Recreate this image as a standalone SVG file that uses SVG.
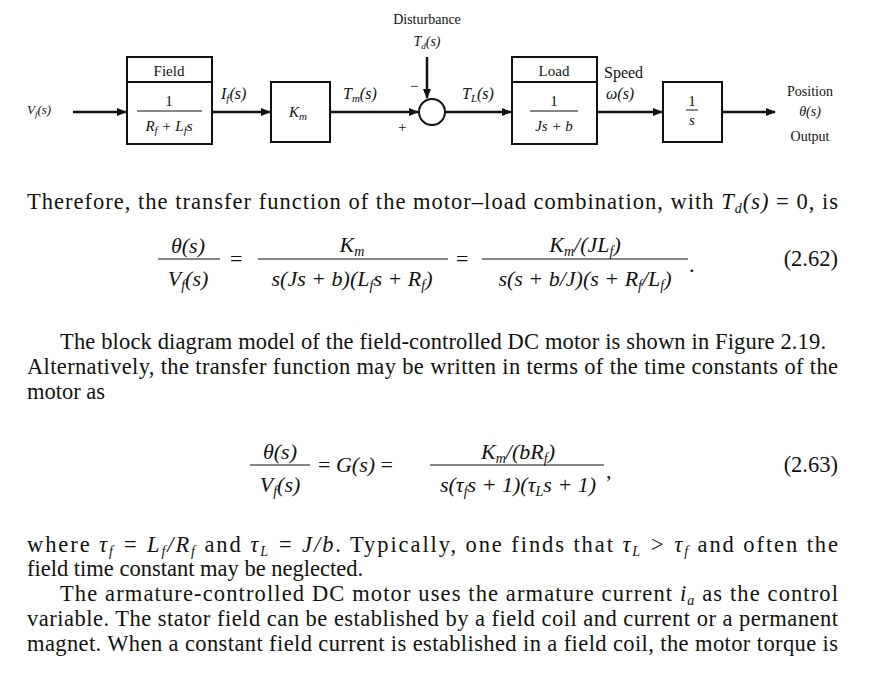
<svg xmlns="http://www.w3.org/2000/svg" width="884" height="680" viewBox="0 0 884 680">
<style>
text{font-family:"Liberation Serif",serif;fill:#111}
.b{fill:none;stroke:#111;stroke-width:2}
.l{stroke:#111;stroke-width:2.5;fill:none}
.s{font-size:15px}
.t{font-size:22.5px}
.e{font-size:22px;font-style:italic}
</style>
<defs><marker id="a" markerWidth="10" markerHeight="8" refX="9" refY="4" orient="auto" markerUnits="userSpaceOnUse"><path d="M0,0L10,4L0,8z" fill="#111"/></marker></defs>
<rect width="884" height="680" fill="#fff"/>
<g id="field"><rect class="b" x="127" y="57" width="85" height="87"/><line class="b" x1="127" y1="82" x2="212" y2="82"/>
<text class="s" x="169" y="76" text-anchor="middle">Field</text><text class="s" x="169" y="106" text-anchor="middle">1</text><line stroke="#111" x1="137" y1="111" x2="202" y2="111"/><text class="s" x="169" y="131" text-anchor="middle" font-style="italic">R<tspan font-size="11" dy="3">f</tspan><tspan dy="-3"> + L</tspan><tspan font-size="11" dy="3">f</tspan><tspan dy="-3">s</tspan></text></g>
<g id="km"><rect class="b" x="271" y="82" width="59" height="60"/><text class="s" x="298" y="117" text-anchor="middle" font-style="italic" font-size="16">K<tspan font-size="11" dy="3">m</tspan></text></g>
<g id="sum"><circle class="b" cx="432" cy="112" r="13"/><text class="s" x="410" y="91">−</text><text class="s" x="398" y="132">+</text></g>
<g id="load"><rect class="b" x="512" y="57" width="85" height="87"/><line class="b" x1="512" y1="82" x2="597" y2="82"/>
<text class="s" x="554" y="76" text-anchor="middle">Load</text><text class="s" x="554" y="106" text-anchor="middle">1</text><line stroke="#111" x1="530" y1="111" x2="578" y2="111"/><text class="s" x="554" y="131" text-anchor="middle" font-style="italic">Js + b</text></g>
<g id="integ"><rect class="b" x="663" y="82" width="59" height="60"/><text class="s" x="692" y="106" text-anchor="middle">1</text><line stroke="#111" x1="686" y1="110" x2="698" y2="110"/><text class="s" x="692" y="125" text-anchor="middle" font-style="italic">s</text></g>
<g id="connectors">
<line class="l" x1="73" y1="112" x2="126" y2="112" marker-end="url(#a)"/>
<line class="l" x1="212" y1="112" x2="270" y2="112" marker-end="url(#a)"/>
<line class="l" x1="330" y1="112" x2="418" y2="112" marker-end="url(#a)"/>
<line class="l" x1="427" y1="57" x2="427" y2="98" marker-end="url(#a)"/>
<line class="l" x1="445" y1="112" x2="511" y2="112" marker-end="url(#a)"/>
<line class="l" x1="597" y1="112" x2="662" y2="112" marker-end="url(#a)"/>
<line class="l" x1="722" y1="112" x2="775" y2="112" marker-end="url(#a)"/>
</g>
<g class="s">
<text x="27" y="114" font-style="italic" font-size="13">V<tspan font-size="9" dy="3">f</tspan><tspan dy="-3">(s)</tspan></text>
<text x="221" y="99" font-style="italic" font-size="16">I<tspan font-size="11" dy="3">f</tspan><tspan dy="-3">(s)</tspan></text>
<text x="343" y="99" font-style="italic" font-size="16">T<tspan font-size="11" dy="3">m</tspan><tspan dy="-3">(s)</tspan></text>
<text x="427" y="24" text-anchor="middle" font-size="14">Disturbance</text>
<text x="427" y="46" text-anchor="middle" font-style="italic" font-size="14">T<tspan font-size="9" dy="3">d</tspan><tspan dy="-3">(s)</tspan></text>
<text x="462" y="99" font-style="italic" font-size="16">T<tspan font-size="11" dy="3">L</tspan><tspan dy="-3">(s)</tspan></text>
<text x="604" y="78" font-size="16">Speed</text><text x="606" y="99" font-style="italic" font-size="16">ω(s)</text>
<text x="810" y="96" text-anchor="middle" font-size="14">Position</text>
<text x="810" y="116" text-anchor="middle" font-style="italic" font-size="14">θ(s)</text>
<text x="810" y="141" text-anchor="middle" font-size="14">Output</text>
</g>
<text class="t" x="27" y="209" textLength="811" lengthAdjust="spacing">Therefore, the transfer function of the motor–load combination, with <tspan font-style="italic">T<tspan font-size="14" dy="4">d</tspan><tspan dy="-4">(s)</tspan></tspan> = 0, is</text>
<g class="e">
<text x="188" y="253" text-anchor="middle">θ(s)</text><line stroke="#111" x1="158" y1="259" x2="220" y2="259"/><text x="188" y="286" text-anchor="middle">V<tspan font-size="14" dy="4">f</tspan><tspan dy="-4">(s)</tspan></text>
<text x="230" y="266" font-style="normal">=</text>
<text x="352" y="252" text-anchor="middle">K<tspan font-size="14" dy="4">m</tspan></text><line stroke="#111" x1="258" y1="259" x2="448" y2="259"/><text x="352" y="286" text-anchor="middle">s(Js + b)(L<tspan font-size="14" dy="4">f</tspan><tspan dy="-4">s + R</tspan><tspan font-size="14" dy="4">f</tspan><tspan dy="-4">)</tspan></text>
<text x="456" y="266" font-style="normal">=</text>
<text x="585" y="252" text-anchor="middle">K<tspan font-size="14" dy="4">m</tspan><tspan dy="-4">/(JL</tspan><tspan font-size="14" dy="4">f</tspan><tspan dy="-4">)</tspan></text><line stroke="#111" x1="482" y1="259" x2="688" y2="259"/><text x="585" y="286" text-anchor="middle">s(s + b/J)(s + R<tspan font-size="14" dy="4">f</tspan><tspan dy="-4">/L</tspan><tspan font-size="14" dy="4">f</tspan><tspan dy="-4">)</tspan></text>
<text x="689" y="272" font-style="normal">.</text>
</g>
<text class="t" x="838" y="266" text-anchor="end">(2.62)</text>
<text class="t" x="60" y="349" textLength="766" lengthAdjust="spacing">The block diagram model of the field-controlled DC motor is shown in Figure 2.19.</text>
<text class="t" x="27" y="374" textLength="811" lengthAdjust="spacing">Alternatively, the transfer function may be written in terms of the time constants of the</text>
<text class="t" x="27" y="399">motor as</text>
<g class="e">
<text x="280" y="459" text-anchor="middle">θ(s)</text><line stroke="#111" x1="250" y1="465" x2="310" y2="465"/><text x="280" y="492" text-anchor="middle">V<tspan font-size="14" dy="4">f</tspan><tspan dy="-4">(s)</tspan></text>
<text x="318" y="472"><tspan font-style="normal">=</tspan> G(s) <tspan font-style="normal">=</tspan></text>
<text x="518" y="459" text-anchor="middle">K<tspan font-size="14" dy="4">m</tspan><tspan dy="-4">/(bR</tspan><tspan font-size="14" dy="4">f</tspan><tspan dy="-4">)</tspan></text><line stroke="#111" x1="430" y1="465" x2="604" y2="465"/><text x="518" y="492" text-anchor="middle">s(τ<tspan font-size="14" dy="4">f</tspan><tspan dy="-4">s + 1)(τ</tspan><tspan font-size="14" dy="4">L</tspan><tspan dy="-4">s + 1)</tspan></text>
<text x="606" y="478" font-style="normal">,</text>
</g>
<text class="t" x="838" y="472" text-anchor="end">(2.63)</text>
<text class="t" x="27" y="552" textLength="811" lengthAdjust="spacing">where <tspan font-style="italic">τ<tspan font-size="14" dy="4">f</tspan><tspan dy="-4"> = L</tspan><tspan font-size="14" dy="4">f</tspan><tspan dy="-4">/R</tspan><tspan font-size="14" dy="4">f</tspan></tspan><tspan dy="-4"> and </tspan><tspan font-style="italic">τ<tspan font-size="14" dy="4">L</tspan><tspan dy="-4"> = J/b</tspan></tspan>. Typically, one finds that <tspan font-style="italic">τ<tspan font-size="14" dy="4">L</tspan><tspan dy="-4"> &gt; τ</tspan><tspan font-size="14" dy="4">f</tspan></tspan><tspan dy="-4"> and often the</tspan></text>
<text class="t" x="27" y="576">field time constant may be neglected.</text>
<text class="t" x="60" y="601" textLength="778" lengthAdjust="spacing">The armature-controlled DC motor uses the armature current <tspan font-style="italic">i<tspan font-size="14" dy="4">a</tspan></tspan><tspan dy="-4"> as the control</tspan></text>
<text class="t" x="27" y="626" textLength="811" lengthAdjust="spacing">variable. The stator field can be established by a field coil and current or a permanent</text>
<text class="t" x="27" y="651" textLength="811" lengthAdjust="spacing">magnet. When a constant field current is established in a field coil, the motor torque is</text>
</svg>
